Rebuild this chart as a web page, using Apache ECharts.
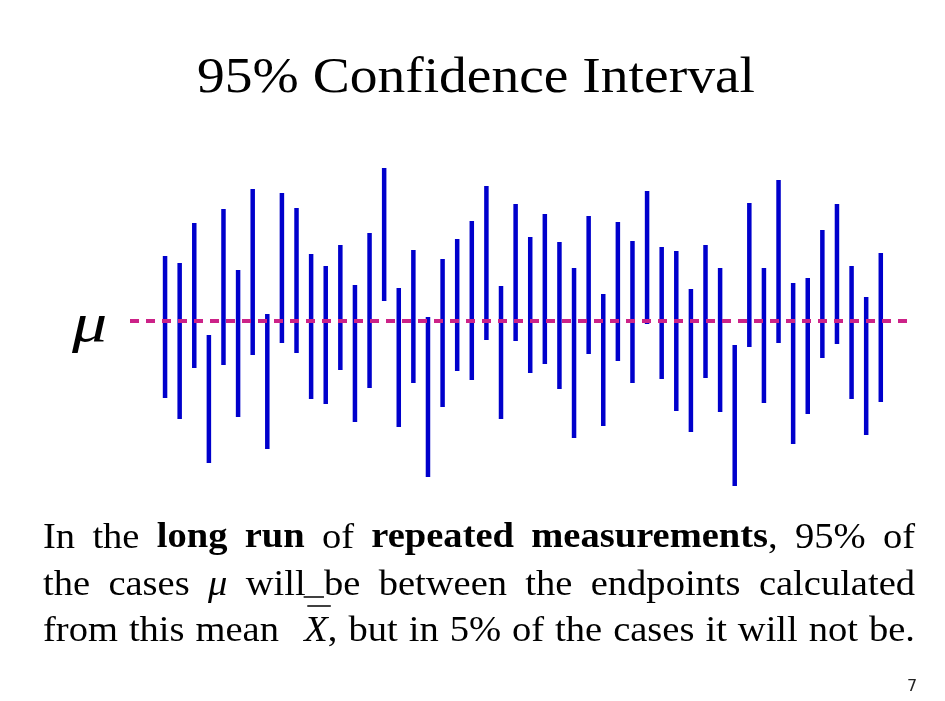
<!DOCTYPE html>
<html>
<head>
<meta charset="utf-8">
<script src="https://cdn.jsdelivr.net/npm/echarts@6/dist/echarts.min.js"></script>
<style>
html, body { margin: 0; padding: 0; background: #fff; }
#main { width: 945px; height: 701px; }
</style>
</head>
<body>
<div id="main"></div>
<script>
// sample number of each repeated measurement
var sampleNo = [1, 2, 3, 4, 5, 6, 7, 8, 9, 10,
    11, 12, 13, 14, 15, 16, 17, 18, 19, 20,
    21, 22, 23, 24, 25, 26, 27, 28, 29, 30,
    31, 32, 33, 34, 35, 36, 37, 38, 39, 40,
    41, 42, 43, 44, 45, 46, 47, 48, 49, 50];
// interval endpoints, measured from mu (arbitrary units)
var upper = [65, 58, 98, -14, 112, 51, 132, 7, 128, 113,
    67, 55, 76, 36, 88, 153, 33, 71, 4, 62,
    82, 100, 135, 35, 117, 84, 107, 79, 53, 105,
    27, 99, 80, 130, 74, 70, 32, 76, 53, -24,
    118, 53, 141, 38, 43, 91, 117, 55, 24, 68];
var lower = [-77, -98, -47, -142, -44, -96, -34, -128, -22, -32,
    -78, -83, -49, -101, -67, 20, -106, -62, -156, -86,
    -50, -59, -19, -98, -20, -52, -43, -68, -117, -33,
    -105, -40, -62, -3, -58, -90, -111, -57, -91, -165,
    -26, -82, -22, -123, -93, -37, -23, -78, -114, -81];
var MU = 0;

var titleText = '95% Confidence Interval';
// n = normal, b = bold, i = italic
var line1 = [[['In', 'n']], [['the', 'n']], [['long', 'b']], [['run', 'b']], [['of', 'n']],
    [['repeated', 'b']], [['measurements', 'b'], [',', 'n']], [['95%', 'n']], [['of', 'n']]];
var line2 = [[['the', 'n']], [['cases', 'n']], [['\u03bc', 'i']], [['will', 'n']], [['be', 'n']],
    [['between', 'n']], [['the', 'n']], [['endpoints', 'n']], [['calculated', 'n']]];
var line3 = [[['from', 'n']], [['this', 'n']], [['mean', 'n']], [['X', 'i'], [',', 'n']], [['but', 'n']],
    [['in', 'n']], [['5%', 'n']], [['of', 'n']], [['the', 'n']], [['cases', 'n']], [['it', 'n']],
    [['will', 'n']], [['not', 'n']], [['be.', 'n']]];

var SERIF = '"Liberation Serif", "Times New Roman", serif';
var bodySize = 36;
var SX = 1.07; // slide text is a bit wider than the font
var chartDom = document.getElementById('main');
var myChart = echarts.init(chartDom);

var ctx = document.createElement('canvas').getContext('2d');
function fontOf(kind, size) {
    return (kind == 'i' ? 'italic ' : '') + (kind == 'b' ? 'bold ' : '') + size + 'px ' + SERIF;
}
function measure(t, kind, size) {
    ctx.font = fontOf(kind, size);
    return ctx.measureText(t).width * SX;
}

var graphics = [];
var marks = {}; // remember where some words land
function addText(t, x, y, font, align, sx) {
    graphics.push({
        type: 'text', x: x, y: y, scaleX: sx || SX, silent: true,
        style: { text: t, font: font, fill: '#000', textAlign: align || 'left', textVerticalAlign: 'middle' }
    });
}
// lay out one justified line; wide = index of a word that gets a double gap before it
function layLine(words, left, right, baseline, tag, wide) {
    var widths = words.map(function (w) {
        return w.reduce(function (s, p) { return s + measure(p[0], p[1], bodySize); }, 0);
    });
    var total = widths.reduce(function (a, b) { return a + b; }, 0);
    var nGaps = words.length - 1 + (wide ? 1.3 : 0);
    var gap = (right - left - total) / nGaps;
    var x = left;
    words.forEach(function (w, i) {
        if (wide && i == wide) x += gap * 1.3;
        var wx = x;
        w.forEach(function (p) {
            addText(p[0], wx, baseline - bodySize * 0.3, fontOf(p[1], bodySize));
            marks[tag + i + p[0]] = [wx, wx + measure(p[0], p[1], bodySize)];
            wx += measure(p[0], p[1], bodySize);
        });
        x += widths[i] + gap;
    });
}

addText(titleText, 476, 79, '50px ' + SERIF, 'center', 1.11);
addText('\u03bc', 72, 327, 'italic 54px ' + SERIF, 'left', 1.3);
layLine(line1, 43, 915, 549, 'l1');
layLine(line2, 43, 915, 596, 'l2');
layLine(line3, 43, 915, 642, 'l3', 3);
graphics.push({
    type: 'text', x: 912, y: 687, silent: true,
    style: { text: '7', font: '16px "DejaVu Sans", sans-serif', fill: '#222', textAlign: 'center', textVerticalAlign: 'middle' }
});
// the stray underscore between "will" and "be"
var w1 = marks['l23will'], w2 = marks['l24be'];
graphics.push({ type: 'line', silent: true, shape: { x1: w1[1] - 2, y1: 597, x2: w2[0], y2: 597 }, style: { stroke: '#000', lineWidth: 1.5 } });
// bar over the X
var xb = marks['l33X'];
graphics.push({ type: 'line', silent: true, shape: { x1: xb[0] + 3, y1: 606, x2: xb[1] + 3, y2: 606 }, style: { stroke: '#000', lineWidth: 1.5 } });

var ciData = sampleNo.map(function (n, i) { return [n, lower[i], upper[i]]; });

option = {
    animation: false,
    backgroundColor: '#fff',
    graphic: graphics,
    grid: { left: 130, right: 35, top: 161, bottom: 210 },
    xAxis: { type: 'value', min: -1.4, max: 52, show: false },
    yAxis: { type: 'value', min: -170, max: 160, show: false },
    series: [{
        type: 'custom',
        data: ciData,
        renderItem: function (params, api) {
            var top = api.coord([api.value(0), api.value(2)]);
            var bot = api.coord([api.value(0), api.value(1)]);
            var w = 4.5;
            return {
                type: 'rect',
                shape: { x: top[0] - w / 2, y: top[1], width: w, height: bot[1] - top[1] },
                style: { fill: '#0000CC' }
            };
        },
        markLine: {
            silent: true,
            symbol: 'none',
            label: { show: false },
            lineStyle: { color: '#CC2288', width: 4, type: [9, 7] },
            data: [{ yAxis: MU }]
        }
    }]
};
myChart.setOption(option);
</script>
</body>
</html>
